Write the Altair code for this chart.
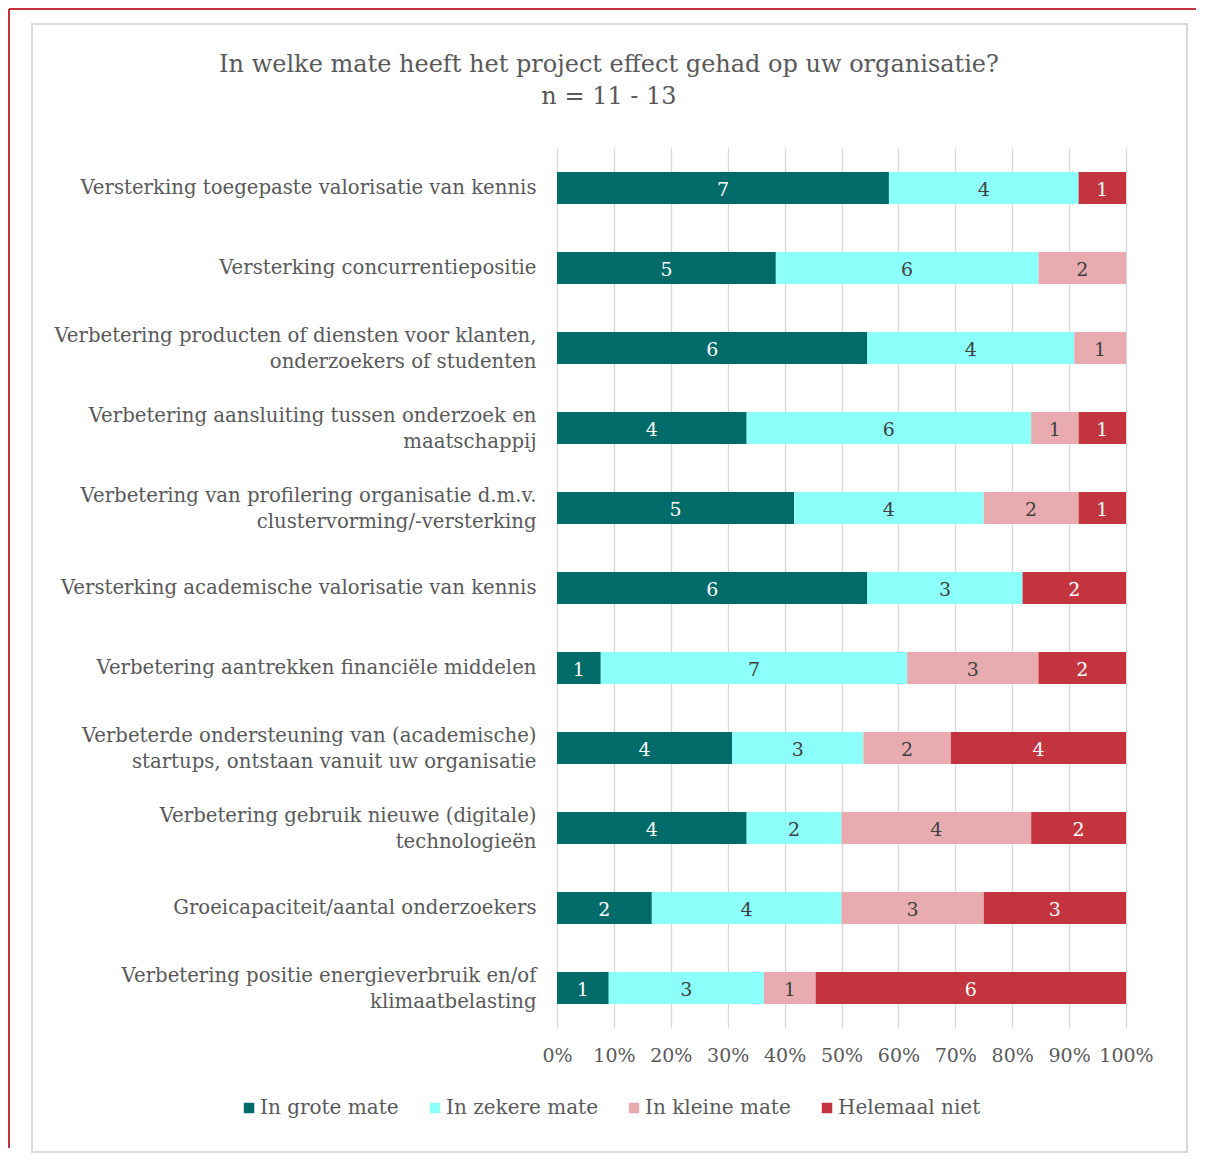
import altair as alt
import pandas as pd

title_lines = ["In welke mate heeft het project effect gehad op uw organisatie?", "n = 11 - 13"]
categories = [
    "Versterking toegepaste valorisatie van kennis",
    "Versterking concurrentiepositie",
    "Verbetering producten of diensten voor klanten,|onderzoekers of studenten",
    "Verbetering aansluiting tussen onderzoek en|maatschappij",
    "Verbetering van profilering organisatie d.m.v.|clustervorming/-versterking",
    "Versterking academische valorisatie van kennis",
    "Verbetering aantrekken financiële middelen",
    "Verbeterde ondersteuning van (academische)|startups, ontstaan vanuit uw organisatie",
    "Verbetering gebruik nieuwe (digitale)|technologieën",
    "Groeicapaciteit/aantal onderzoekers",
    "Verbetering positie energieverbruik en/of|klimaatbelasting",
]
series = ["In grote mate", "In zekere mate", "In kleine mate", "Helemaal niet"]
grote = [7, 5, 6, 4, 5, 6, 1, 4, 4, 2, 1]
zekere = [4, 6, 4, 6, 4, 3, 7, 3, 2, 4, 3]
kleine = [0, 2, 1, 1, 2, 0, 3, 2, 4, 3, 1]
niet = [1, 0, 0, 1, 1, 2, 2, 4, 2, 3, 6]
tick_values = [0, 0.1, 0.2, 0.3, 0.4, 0.5, 0.6, 0.7, 0.8, 0.9, 1.0]

colors = ["#006B68", "#8CFFFB", "#E8ACB0", "#C4343F"]
label_colors = ["#FFFFFF", "#404040", "#404040", "#FFFFFF"]

rows = []
for i, cat in enumerate(categories):
    for j, (s, vals) in enumerate(zip(series, [grote, zekere, kleine, niet])):
        rows.append({"cat": cat, "series": s, "order": j, "value": vals[i],
                     "lc": label_colors[j]})
df = pd.DataFrame(rows)

FONT = "DejaVu Serif"
GREY = "#595959"

base = alt.Chart(df).transform_joinaggregate(
    total="sum(value)", groupby=["cat"]
).transform_calculate(
    pct="datum.value / datum.total"
).transform_stack(
    stack="pct", groupby=["cat"], sort=[alt.SortField("order", "ascending")],
    as_=["x0", "x1"]
).transform_calculate(
    mid="(datum.x0 + datum.x1) / 2"
)

yenc = alt.Y("cat:N", sort=categories, title=None,
             scale=alt.Scale(paddingInner=0.6, paddingOuter=0.3),
             axis=alt.Axis(labelExpr="split(datum.label, '|')", labelFont=FONT,
                           labelFontSize=19.7, labelColor=GREY, labelLimit=600,
                           labelPadding=21, labelLineHeight=26, ticks=False,
                           labelOffset={"condition": {"test": "indexof(datum.value, '|') >= 0",
                                                      "value": -12}, "value": 0},
                           domain=False, grid=False))

bars = base.mark_bar().encode(
    x=alt.X("x0:Q", title=None,
            scale=alt.Scale(domain=[0, 1], nice=False),
            axis=alt.Axis(format="%", values=tick_values, labelOverlap=False,
                          labelFlush=False,
                          labelFont=FONT, labelFontSize=19, labelColor=GREY,
                          labelPadding=18, ticks=False, domain=False,
                          grid=True, gridColor="#D9D9D9", gridWidth=1.3)),
    x2="x1:Q",
    y=yenc,
    color=alt.Color("series:N", sort=series,
                    scale=alt.Scale(domain=series, range=colors),
                    legend=alt.Legend(title=None, orient="none", direction="horizontal",
                                      legendX=-318, legendY=950, columns=4,
                                      symbolType="square", symbolSize=110,
                                      symbolStrokeWidth=0, labelFont=FONT,
                                      labelFontSize=20, labelColor=GREY,
                                      labelOffset=1, columnPadding=26)),
)

labels = base.transform_filter("datum.value > 0").mark_text(
    font=FONT, fontSize=19, baseline="middle", dy=2
).encode(
    x="mid:Q",
    y=alt.Y("cat:N", sort=categories),
    text="value:Q",
    color=alt.Color("lc:N", scale=None),
)

frame = alt.Chart(df).mark_rect(fill=None, stroke="#D9D9D9", strokeWidth=1.5).encode(
    x=alt.value(-525), x2=alt.value(630), y=alt.value(-124), y2=alt.value(1004)
)
red_top = alt.Chart(df).mark_rule(color="#C4343F", strokeWidth=2).encode(
    x=alt.value(-548), x2=alt.value(640), y=alt.value(-139)
)
red_left = alt.Chart(df).mark_rule(color="#C4343F", strokeWidth=2).encode(
    x=alt.value(-548), y=alt.value(-139), y2=alt.value(1000)
)
title = alt.Chart(pd.DataFrame({"t": [0]})).mark_text(
    font=FONT, fontSize=24, color=GREY, align="center", baseline="middle",
    lineHeight=32,
).encode(
    x=alt.value(52), y=alt.value(-83), text=alt.value(title_lines)
)

chart = alt.layer(frame, red_top, red_left, bars, labels, title).properties(
    width=569, height=880,
    padding={"left": 549, "top": 140, "right": 70, "bottom": 126},
    autosize=alt.AutoSizeParams(type="none"),
).configure_view(stroke=None)

chart.save("out.html", embed_options={"renderer": "svg", "actions": False})
